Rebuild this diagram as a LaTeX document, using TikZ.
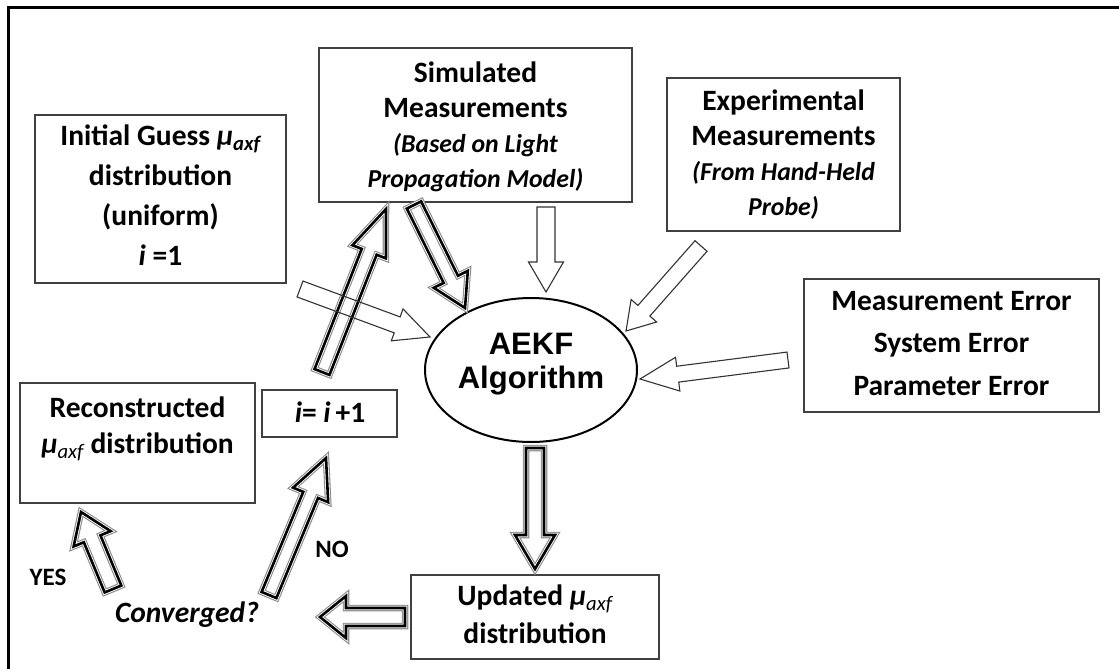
\documentclass[tikz,border=0pt]{standalone}
\usepackage{fontspec}
\setmainfont{Carlito}
\newfontfamily\arialfont{Liberation Sans}
\usetikzlibrary{calc,shapes.geometric}

% block arrow: #1 style, #2 tail, #3 tip, #4 shaft half width, #5 head half width, #6 head length
\newcommand\bArrow[6]{%
  \path[#1] ($(#2)!#4!90:(#3)$)
    -- ($($(#3)!#6!(#2)$)!#4!90:(#3)$)
    -- ($($(#3)!#6!(#2)$)!#5!90:(#3)$)
    -- (#3)
    -- ($($(#3)!#6!(#2)$)!#5!-90:(#3)$)
    -- ($($(#3)!#6!(#2)$)!#4!-90:(#3)$)
    -- ($(#2)!#4!-90:(#3)$) -- cycle;}
\newcommand\itl{\fontsize{25.8}{35}\selectfont\itshape}

\tikzset{
  box/.style={draw=black!75, line width=1.3pt, align=center, inner sep=0pt},
  txt/.style={align=center, inner sep=0pt},
  fs/.style={font=\bfseries\fontsize{29.5}{#1}\selectfont},
  lbl/.style={inner sep=0pt, font=\bfseries\fontsize{25}{30}\selectfont},
  dbl/.style={preaction={draw=black!45, line width=6.5pt},
    preaction={draw=white, line width=4.3pt},
    draw=black, line width=2.6pt, line join=miter},
  sgl/.style={draw=black!80, line width=1.1pt, line join=miter},
}

\begin{document}
\begin{tikzpicture}[x=1pt,y=-1pt]
\useasboundingbox (0,0) rectangle (1119,669);
\fill[white] (0,0) rectangle (1119,669);
\begin{scope}
  \clip (0,0) rectangle (1119,669);
  \draw[line width=3pt] (8.5,690) -- (8.5,7.5) -- (1140,7.5);
\end{scope}

% boxes (text nodes anchored at the baseline of their last line)
\node[box, minimum width=251pt, minimum height=168pt] (init) at (160.5,199) {};
\node[txt, fs=40, anchor=base] (initt) at (160.5,265)
  {Initial Guess {\itshape μ}\textsubscript{\itshape axf}\\ distribution\\ (uniform)\\ {\itshape i} =1};
\node[box, minimum width=313pt, minimum height=154pt] (sim) at (475.5,125) {};
\node[txt, fs=35, anchor=base] (simt) at (475.5,187)
  {Simulated\\ Measurements\\ {\itl (Based on Light}\\ {\itl Propagation Model)}};
\node[box, minimum width=233pt, minimum height=153pt] (exp) at (783.5,154.5) {};
\node[txt, fs=35, anchor=base] (expt) at (783.5,215)
  {Experimental\\ Measurements\\ {\itl (From Hand-Held}\\ {\itl Probe)}};
\node[box, minimum width=295pt, minimum height=133pt] (err) at (951.5,345.5) {};
\node[txt, fs=42.5, anchor=base] (errt) at (951.5,395)
  {Measurement Error\\ System Error\\ Parameter Error};
\node[box, minimum width=235pt, minimum height=120pt] (rec) at (137.5,443) {};
\node[txt, fs=36, anchor=base] (rect) at (137.5,453)
  {Reconstructed\\ {\itshape μ}\textsubscript{\mdseries\itshape axf} distribution};
\node[box, minimum width=135pt, minimum height=47pt] (inc) at (329.5,413.5) {};
\node[txt, fs=35, anchor=base] (inct) at (330,422)
  {{\itshape i}= {\itshape i}\,+1};
\node[box, minimum width=248pt, minimum height=84pt] (upd) at (535,617) {};
\node[txt, fs=38, anchor=base] (updt) at (535,643)
  {Updated {\itshape μ}\textsubscript{\mdseries\itshape axf}\\ distribution};
\node[draw=black, line width=2pt, ellipse, minimum width=212pt, minimum height=144pt,
  inner sep=0pt] (alg) at (531,370) {};
\node[txt, anchor=base, font=\arialfont\bfseries\fontsize{31}{34}\selectfont]
  (algt) at (531,388) {AEKF\\ Algorithm};

% labels
\node[lbl, anchor=base] (yes) at (48,585) {YES};
\node[lbl, anchor=base] (no) at (332,557) {NO};
\node[txt, fs=30, anchor=base] (conv) at (187,622) {\itshape Converged?};

% arrow end points
\coordinate (d1a) at (322,372); \coordinate (d1b) at (386,209);
\coordinate (d2a) at (414,205); \coordinate (d2b) at (465,308);
\coordinate (d3a) at (535,448); \coordinate (d3b) at (535,569);
\coordinate (d4a) at (405,617); \coordinate (d4b) at (320,617);
\coordinate (d5a) at (113,589); \coordinate (d5b) at (81,512);
\coordinate (d6a) at (269,595); \coordinate (d6b) at (326,458);
\coordinate (s1a) at (300,289); \coordinate (s1b) at (430,337);
\coordinate (s2a) at (546,207); \coordinate (s2b) at (546,292);
\coordinate (s3a) at (701,246); \coordinate (s3b) at (626,331);
\coordinate (s4a) at (788,360); \coordinate (s4b) at (640,379);

% double outlined arrows
\bArrow{dbl}{d1a}{d1b}{8pt}{18pt}{46pt}
\bArrow{dbl}{d2a}{d2b}{8pt}{19pt}{32pt}
\bArrow{dbl}{d3a}{d3b}{9pt}{20pt}{34pt}
\bArrow{dbl}{d4a}{d4b}{9pt}{21pt}{26pt}
\bArrow{dbl}{d5a}{d5b}{9pt}{20pt}{29pt}
\bArrow{dbl}{d6a}{d6b}{8pt}{19pt}{40pt}

% thin hollow arrows
\bArrow{sgl}{s1a}{s1b}{8.5pt}{17pt}{35pt}
\bArrow{sgl}{s2a}{s2b}{9pt}{17.5pt}{30pt}
\bArrow{sgl}{s3a}{s3b}{8pt}{17pt}{27pt}
\bArrow{sgl}{s4a}{s4b}{8pt}{17pt}{38pt}
\end{tikzpicture}
\end{document}
